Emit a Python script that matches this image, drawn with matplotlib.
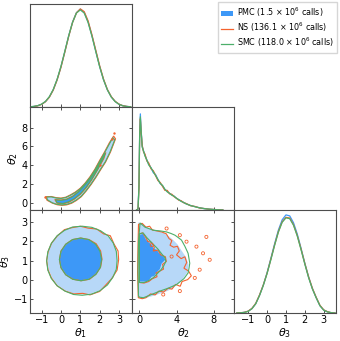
import matplotlib
matplotlib.use('Agg')
import matplotlib.pyplot as plt
from matplotlib.patches import Patch
from matplotlib.lines import Line2D

# colours
pmc_dark = '#3D98F7'
pmc_light = '#B7D8F8'
ns_col = '#F4622E'
smc_col = '#4CAF6A'

# axis ranges / ticks
th1_lim = (-1.6, 3.67)
th2_lim = (-0.8, 10.2)
th3_lim = (-1.75, 3.65)
th1_ticks = [-1, 0, 1, 2, 3]
th2_xticks = [0, 4, 8]
th2_yticks = [0, 2, 4, 6, 8]
th3_ticks = [-1, 0, 1, 2, 3]

# 1D marginal of theta1
th1_grid = [-1.6, -1.4, -1.2, -1.0, -0.8, -0.6, -0.4, -0.2, 0.0, 0.2, 0.4, 0.6, 0.8, 1.0,
            1.2, 1.4, 1.6, 1.8, 2.0, 2.2, 2.4, 2.6, 2.8, 3.0, 3.2, 3.4, 3.6]
pmc_th1 = [0.002, 0.006, 0.013, 0.028, 0.055, 0.102, 0.175, 0.278, 0.41, 0.565, 0.725, 0.866, 0.962, 0.998,
           0.966, 0.87, 0.728, 0.568, 0.412, 0.278, 0.175, 0.103, 0.056, 0.028, 0.013, 0.006, 0.002]
ns_th1 = [0.002, 0.005, 0.012, 0.027, 0.054, 0.1, 0.172, 0.275, 0.405, 0.56, 0.72, 0.862, 0.96, 1.0,
          0.972, 0.878, 0.736, 0.578, 0.42, 0.284, 0.178, 0.105, 0.058, 0.029, 0.013, 0.006, 0.002]
smc_th1 = [0.002, 0.006, 0.014, 0.029, 0.057, 0.105, 0.178, 0.282, 0.414, 0.568, 0.727, 0.864, 0.958, 0.99,
           0.958, 0.862, 0.722, 0.565, 0.41, 0.277, 0.174, 0.101, 0.055, 0.027, 0.012, 0.005, 0.002]

# 1D marginal of theta2
th2_grid = [-0.3, -0.15, -0.05, 0.03, 0.1, 0.18, 0.3, 0.45, 0.6, 0.8, 1.0, 1.25, 1.5, 1.75, 2.0,
            2.25, 2.5, 2.75, 3.0, 3.25, 3.5, 3.75, 4.0, 4.25, 4.5, 4.75, 5.0, 5.5, 6.0, 6.5,
            7.0, 7.5, 8.0, 8.5, 9.0]
pmc_th2 = [0, 0.01, 0.25, 0.8, 0.98, 0.82, 0.65, 0.6, 0.56, 0.51, 0.47, 0.43, 0.38, 0.36, 0.31,
           0.27, 0.245, 0.21, 0.19, 0.17, 0.155, 0.14, 0.12, 0.105, 0.09, 0.078, 0.065, 0.046, 0.034, 0.022,
           0.014, 0.009, 0.005, 0.002, 0.0]
ns_th2 = [0, 0.01, 0.22, 0.76, 0.93, 0.8, 0.66, 0.59, 0.57, 0.5, 0.48, 0.42, 0.4, 0.35, 0.3,
          0.28, 0.24, 0.2, 0.2, 0.165, 0.16, 0.135, 0.12, 0.1, 0.095, 0.075, 0.068, 0.044, 0.036, 0.02,
          0.015, 0.008, 0.006, 0.002, 0.0]
smc_th2 = [0, 0.01, 0.23, 0.78, 0.95, 0.81, 0.64, 0.6, 0.55, 0.51, 0.46, 0.43, 0.39, 0.35, 0.31,
           0.27, 0.25, 0.21, 0.185, 0.17, 0.15, 0.14, 0.118, 0.105, 0.088, 0.078, 0.064, 0.046, 0.033, 0.022,
           0.014, 0.009, 0.005, 0.002, 0.0]

# 1D marginal of theta3
th3_grid = [-1.6, -1.4, -1.2, -1.0, -0.8, -0.6, -0.4, -0.2, 0.0, 0.2, 0.4, 0.6, 0.8, 1.0,
            1.2, 1.4, 1.6, 1.8, 2.0, 2.2, 2.4, 2.6, 2.8, 3.0, 3.2, 3.4, 3.6]
pmc_th3 = [0.0, 0.002, 0.007, 0.018, 0.045, 0.095, 0.18, 0.284, 0.41, 0.556, 0.706, 0.845, 0.95, 1.0,
           0.99, 0.92, 0.805, 0.66, 0.508, 0.368, 0.25, 0.158, 0.075, 0.03, 0.012, 0.003, 0.0]
ns_th3 = [0.0, 0.002, 0.007, 0.019, 0.047, 0.098, 0.183, 0.285, 0.405, 0.548, 0.695, 0.83, 0.93, 0.975,
          0.968, 0.9, 0.79, 0.652, 0.505, 0.368, 0.252, 0.16, 0.078, 0.032, 0.013, 0.003, 0.0]
smc_th3 = [0.0, 0.002, 0.006, 0.017, 0.044, 0.094, 0.178, 0.28, 0.402, 0.543, 0.69, 0.825, 0.925, 0.97,
           0.962, 0.895, 0.785, 0.645, 0.498, 0.36, 0.245, 0.155, 0.074, 0.029, 0.011, 0.003, 0.0]

# theta1-theta2 contours (banana)
pmc_b_out_x = [-0.78, -0.5, -0.25, 0.0, 0.25, 0.5, 0.75, 1.0, 1.25, 1.5, 1.75, 2.0, 2.25, 2.5, 2.7,
               2.8, 2.55, 2.3, 2.05, 1.8, 1.55, 1.3, 1.05, 0.8, 0.55, 0.3, 0.05, -0.2, -0.45, -0.7]
pmc_b_out_y = [0.6, 0.62, 0.5, 0.45, 0.55, 0.8, 1.1, 1.5, 2.05, 2.7, 3.5, 4.45, 5.35, 6.3, 7.0,
               6.75, 5.4, 4.35, 3.55, 2.7, 1.95, 1.25, 0.65, 0.25, -0.05, -0.22, -0.28, -0.22, -0.05, 0.25]
pmc_b_in_x = [-0.3, 0.0, 0.3, 0.6, 0.9, 1.2, 1.5, 1.8, 2.1, 2.3, 2.2, 1.9, 1.6, 1.3, 1.0, 0.7, 0.4, 0.1, -0.2]
pmc_b_in_y = [0.3, 0.25, 0.35, 0.65, 1.15, 1.8, 2.55, 3.5, 4.6, 5.3, 4.7, 3.55, 2.5, 1.6, 0.9, 0.4,
              0.05, -0.12, -0.05]
ns_b_out_x = [-0.8, -0.5, -0.25, 0.0, 0.25, 0.5, 0.75, 1.0, 1.25, 1.5, 1.75, 2.0, 2.25, 2.5, 2.72,
              2.82, 2.56, 2.3, 2.05, 1.8, 1.55, 1.3, 1.05, 0.8, 0.55, 0.3, 0.05, -0.2, -0.45, -0.72]
ns_b_out_y = [0.62, 0.64, 0.52, 0.47, 0.57, 0.83, 1.13, 1.53, 2.08, 2.75, 3.55, 4.5, 5.4, 6.38, 7.1,
              6.8, 5.4, 4.3, 3.5, 2.66, 1.9, 1.22, 0.62, 0.22, -0.08, -0.25, -0.3, -0.24, -0.06, 0.24]
ns_b_in_x = [-0.32, 0.0, 0.3, 0.6, 0.9, 1.2, 1.5, 1.8, 2.1, 2.32, 2.22, 1.9, 1.6, 1.3, 1.0, 0.7, 0.4, 0.1, -0.2]
ns_b_in_y = [0.32, 0.27, 0.37, 0.68, 1.18, 1.83, 2.6, 3.55, 4.65, 5.35, 4.72, 3.52, 2.46, 1.56, 0.87, 0.37,
             0.02, -0.15, -0.07]
smc_b_out_x = [-0.76, -0.5, -0.25, 0.0, 0.25, 0.5, 0.75, 1.0, 1.25, 1.5, 1.75, 2.0, 2.25, 2.5, 2.68,
               2.78, 2.54, 2.3, 2.05, 1.8, 1.55, 1.3, 1.05, 0.8, 0.55, 0.3, 0.05, -0.2, -0.45, -0.68]
smc_b_out_y = [0.58, 0.6, 0.48, 0.43, 0.53, 0.78, 1.08, 1.47, 2.02, 2.67, 3.46, 4.4, 5.3, 6.25, 6.92,
               6.7, 5.42, 4.38, 3.58, 2.74, 1.98, 1.28, 0.68, 0.28, -0.02, -0.2, -0.26, -0.2, -0.03, 0.27]
smc_b_in_x = [-0.28, 0.0, 0.3, 0.6, 0.9, 1.2, 1.5, 1.8, 2.1, 2.28, 2.18, 1.9, 1.6, 1.3, 1.0, 0.7, 0.4, 0.1, -0.2]
smc_b_in_y = [0.28, 0.23, 0.33, 0.63, 1.12, 1.77, 2.52, 3.46, 4.56, 5.25, 4.68, 3.58, 2.53, 1.63, 0.93, 0.43,
              0.08, -0.1, -0.03]
ns_b_specks_x = [-0.85, 2.75, 2.62, 2.02]
ns_b_specks_y = [0.62, 7.37, 6.75, 4.02]

# theta1-theta3 contours
pmc_c_out_x = [2.92, 2.88, 2.72, 2.5, 2.1, 1.6, 1.1, 0.62, 0.22, -0.15, -0.45, -0.63, -0.7, -0.64,
               -0.47, -0.18, 0.2, 0.62, 1.08, 1.55, 2.0, 2.36, 2.65, 2.84]
pmc_c_out_y = [1.0, 1.45, 1.9, 2.2, 2.5, 2.7, 2.76, 2.74, 2.6, 2.32, 1.95, 1.5, 1.02, 0.55,
               0.12, -0.28, -0.55, -0.72, -0.78, -0.73, -0.56, -0.28, 0.1, 0.55]
pmc_c_in_x = [2.1, 2.02, 1.8, 1.43, 1.02, 0.61, 0.26, 0.02, -0.06, 0.02, 0.26, 0.61, 1.02, 1.43, 1.78, 2.02]
pmc_c_in_y = [1.08, 1.5, 1.84, 2.08, 2.16, 2.08, 1.84, 1.48, 1.06, 0.64, 0.28, 0.04, -0.04, 0.04, 0.28, 0.64]
ns_c_out_x = [2.98, 2.95, 2.75, 2.55, 2.2, 1.85, 1.4, 1.0, 0.55, 0.18, -0.18, -0.48, -0.66, -0.74, -0.67,
              -0.5, -0.2, 0.22, 0.66, 1.12, 1.5, 2.0, 2.3, 2.62, 2.9]
ns_c_out_y = [1.05, 1.5, 1.85, 2.3, 2.4, 2.65, 2.7, 2.8, 2.72, 2.62, 2.3, 1.92, 1.48, 1.0, 0.52,
              0.1, -0.32, -0.6, -0.75, -0.72, -0.8, -0.62, -0.3, 0.05, 0.5]
ns_c_in_x = [2.12, 2.05, 1.82, 1.45, 1.02, 0.6, 0.25, 0.0, -0.08, 0.0, 0.25, 0.62, 1.05, 1.48, 1.82, 2.05]
ns_c_in_y = [1.08, 1.5, 1.88, 2.1, 2.18, 2.1, 1.86, 1.5, 1.05, 0.62, 0.25, 0.02, -0.06, 0.02, 0.3, 0.66]
smc_c_out_x = [2.9, 2.86, 2.7, 2.45, 2.05, 1.6, 1.1, 0.6, 0.18, -0.2, -0.5, -0.68, -0.74, -0.68,
               -0.5, -0.2, 0.2, 0.65, 1.1, 1.58, 2.02, 2.4, 2.68, 2.86]
smc_c_out_y = [1.0, 1.48, 1.92, 2.28, 2.56, 2.74, 2.8, 2.76, 2.58, 2.3, 1.9, 1.45, 0.98, 0.5,
               0.06, -0.32, -0.6, -0.78, -0.82, -0.76, -0.58, -0.28, 0.12, 0.55]
smc_c_in_x = [2.1, 2.02, 1.79, 1.43, 1.02, 0.6, 0.24, 0.0, -0.08, 0.0, 0.24, 0.6, 1.02, 1.44, 1.8, 2.03]
smc_c_in_y = [1.05, 1.47, 1.85, 2.1, 2.18, 2.1, 1.85, 1.48, 1.06, 0.63, 0.26, 0.02, -0.06, 0.02, 0.27, 0.63]

# theta2-theta3 contours
pmc_d_out_x = [-0.15, -0.18, -0.15, -0.1, 0.3, 0.8, 1.4, 2.0, 2.6, 3.1, 3.6, 4.1, 4.5, 5.0, 5.3, 5.2,
               4.7, 4.2, 3.6, 3.0, 2.3, 1.5, 0.8, 0.3]
pmc_d_out_y = [-0.9, 0.5, 2.0, 3.0, 2.95, 2.75, 2.65, 2.55, 2.45, 2.3, 2.1, 1.85, 1.55, 1.2, 0.8, 0.4,
               0.05, -0.2, -0.45, -0.6, -0.72, -0.85, -0.95, -0.98]
pmc_d_in_x = [0.05, 0.05, 0.4, 0.7, 1.0, 1.3, 1.5, 1.9, 2.1, 2.6, 2.8, 2.4, 2.2, 1.9, 1.6, 1.3, 1.0, 0.6]
pmc_d_in_y = [-0.1, 2.35, 2.4, 2.1, 1.95, 1.85, 1.65, 1.55, 1.4, 1.2, 1.05, 0.85, 0.55, 0.4, 0.2, 0.15,
              -0.05, -0.1]
ns_d_out_x = [-0.12, -0.2, -0.15, -0.1, 0.3, 0.7, 1.1, 1.4, 1.9, 2.4, 2.9, 3.2, 3.5, 3.3, 3.7, 4.1, 4.3,
              4.0, 4.5, 4.9, 5.1, 4.8, 5.3, 5.6, 5.2, 4.6, 4.4, 3.9, 3.5, 3.1, 2.6, 2.1, 1.7, 1.2, 0.7, 0.3]
ns_d_out_y = [-0.95, 0.4, 1.8, 2.9, 2.95, 2.75, 2.8, 2.6, 2.55, 2.5, 2.4, 2.15, 2.05, 1.8, 1.7, 1.75, 1.5,
              1.3, 1.1, 1.2, 0.9, 0.6, 0.45, 0.2, 0.0, -0.1, -0.35, -0.25, -0.5, -0.45, -0.65, -0.6, -0.8,
              -0.75, -0.95, -1.0]
ns_d_in_x = [0.0, 0.0, 0.35, 0.7, 0.9, 1.3, 1.6, 1.5, 2.0, 2.3, 2.8, 2.9, 2.5, 2.6, 2.2, 1.8, 1.9, 1.4,
             1.0, 0.5]
ns_d_in_y = [-0.15, 2.4, 2.45, 2.2, 2.0, 1.95, 1.7, 1.5, 1.55, 1.3, 1.2, 0.95, 0.8, 0.55, 0.45, 0.35,
             0.15, 0.05, -0.1, -0.18]
smc_d_out_x = [-0.1, -0.15, -0.1, 0.07, 0.6, 1.5, 2.3, 2.93, 3.4, 3.83, 4.2, 4.54, 4.9, 5.25, 5.43, 5.35,
               5.25, 4.8, 4.0, 3.1, 2.22, 1.3, 0.43, 0.0]
smc_d_out_y = [-0.86, 0.5, 2.0, 2.97, 2.75, 2.59, 2.55, 2.5, 2.42, 2.33, 2.2, 2.07, 1.75, 1.38, 0.86, 0.6,
               0.35, 0.05, -0.26, -0.45, -0.6, -0.78, -0.95, -0.92]
smc_d_in_x = [0.0, 0.0, 0.4, 0.8, 1.2, 1.6, 2.0, 2.4, 2.75, 2.85, 2.6, 2.3, 1.9, 1.5, 1.0, 0.5]
smc_d_in_y = [-0.15, 2.4, 2.45, 2.2, 2.0, 1.8, 1.6, 1.35, 1.15, 0.95, 0.7, 0.5, 0.3, 0.1, -0.05, -0.15]
ns_d_specks_x = [4.36, 5.08, 6.15, 7.22, 2.93, 6.86, 7.58, 6.5, 5.97, 4.36, 2.57, 3.47, 1.33]
ns_d_specks_y = [2.33, 1.99, 1.73, 2.24, 2.68, 1.38, 1.04, 0.52, 0.09, -0.6, -0.78, 1.21, 1.81]

labels = [r'PMC (1.5 $\times$ 10$^6$ calls)',
          r'NS (136.1 $\times$ 10$^6$ calls)',
          r'SMC (118.0 $\times$ 10$^6$ calls)']

plt.rcParams['font.family'] = 'DejaVu Sans'
fig, axes = plt.subplots(3, 3, figsize=(3.4, 3.41), dpi=100)
plt.subplots_adjust(left=30/340, right=336/340, top=1-4/341, bottom=1-313/341, wspace=0, hspace=0)

for a in [axes[0, 1], axes[0, 2], axes[1, 2]]:
    a.set_visible(False)

for a in axes.flat:
    for s in a.spines.values():
        s.set_color('0.3')
        s.set_linewidth(0.8)
    a.tick_params(direction='in', length=2.5, width=0.6, labelsize=7, pad=1.5,
                  top=True, right=True, color='0.2')


def draw_2d(ax, pout, pin, nout, nin, sout, sin):
    ax.fill(pout[0], pout[1], color=pmc_light, lw=0)
    ax.fill(pin[0], pin[1], color=pmc_dark, lw=0)
    for xy, c in [(nout, ns_col), (nin, ns_col), (sout, smc_col), (sin, smc_col)]:
        ax.fill(xy[0], xy[1], fill=False, edgecolor=c, lw=0.8)


# diagonal panels
diag = [(axes[0, 0], th1_grid, pmc_th1, ns_th1, smc_th1, th1_lim, th1_ticks),
        (axes[1, 1], th2_grid, pmc_th2, ns_th2, smc_th2, th2_lim, th2_xticks),
        (axes[2, 2], th3_grid, pmc_th3, ns_th3, smc_th3, th3_lim, th3_ticks)]
for ax, g, p, n, s, lim, tk in diag:
    ax.plot(g, p, color=pmc_dark, lw=0.9)
    ax.plot(g, n, color=ns_col, lw=0.9)
    ax.plot(g, s, color=smc_col, lw=0.9)
    ax.set_xlim(lim)
    ax.set_ylim(0, 1.05)
    ax.set_xticks(tk)
    ax.set_yticks([])
    ax.tick_params(top=False, right=False, left=False)

# theta1 - theta2
ax = axes[1, 0]
draw_2d(ax, (pmc_b_out_x, pmc_b_out_y), (pmc_b_in_x, pmc_b_in_y),
        (ns_b_out_x, ns_b_out_y), (ns_b_in_x, ns_b_in_y),
        (smc_b_out_x, smc_b_out_y), (smc_b_in_x, smc_b_in_y))
ax.scatter(ns_b_specks_x, ns_b_specks_y, s=3, color=ns_col, lw=0)
ax.set_xlim(th1_lim)
ax.set_ylim(th2_lim)
ax.set_xticks(th1_ticks)
ax.set_yticks(th2_yticks)

# theta1 - theta3
ax = axes[2, 0]
draw_2d(ax, (pmc_c_out_x, pmc_c_out_y), (pmc_c_in_x, pmc_c_in_y),
        (ns_c_out_x, ns_c_out_y), (ns_c_in_x, ns_c_in_y),
        (smc_c_out_x, smc_c_out_y), (smc_c_in_x, smc_c_in_y))
ax.set_xlim(th1_lim)
ax.set_ylim(th3_lim)
ax.set_xticks(th1_ticks)
ax.set_yticks(th3_ticks)

# theta2 - theta3
ax = axes[2, 1]
draw_2d(ax, (pmc_d_out_x, pmc_d_out_y), (pmc_d_in_x, pmc_d_in_y),
        (ns_d_out_x, ns_d_out_y), (ns_d_in_x, ns_d_in_y),
        (smc_d_out_x, smc_d_out_y), (smc_d_in_x, smc_d_in_y))
ax.scatter(ns_d_specks_x, ns_d_specks_y, s=5, facecolor='none', edgecolor=ns_col, lw=0.6)
ax.set_xlim(th2_lim)
ax.set_ylim(th3_lim)
ax.set_xticks(th2_xticks)
ax.set_yticks(th3_ticks)

# tick labels only on outer panels
for a in [axes[0, 0], axes[1, 0], axes[1, 1]]:
    a.set_xticklabels([])
for a in [axes[2, 1], axes[2, 2]]:
    a.set_yticklabels([])

axes[2, 0].set_xlabel(r'$\theta_1$', fontsize=8, labelpad=1)
axes[2, 1].set_xlabel(r'$\theta_2$', fontsize=8, labelpad=1)
axes[2, 2].set_xlabel(r'$\theta_3$', fontsize=8, labelpad=1)
axes[1, 0].set_ylabel(r'$\theta_2$', fontsize=8, labelpad=1)
axes[2, 0].set_ylabel(r'$\theta_3$', fontsize=8, labelpad=1)

handles = [Patch(facecolor=pmc_dark, edgecolor='none'),
           Line2D([], [], color=ns_col, lw=0.9),
           Line2D([], [], color=smc_col, lw=0.9)]
fig.legend(handles, labels, loc='upper right', bbox_to_anchor=(0.996, 0.998), fontsize=5.8,
           frameon=True, edgecolor='0.8', fancybox=False, handlelength=1.5, handletextpad=0.4,
           borderpad=0.45, labelspacing=0.2, borderaxespad=0.2)

fig.savefig('out.png', dpi=100)
